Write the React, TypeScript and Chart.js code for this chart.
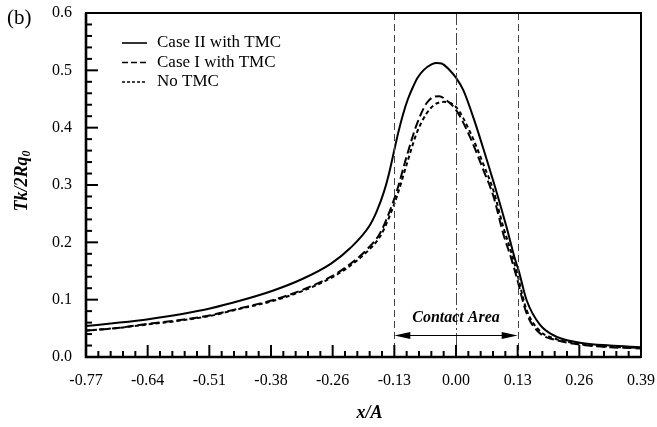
import React, { useEffect, useRef } from "react";
import { Chart, registerables } from "chart.js";

Chart.register(...registerables);

// ---- data ----
const xTickValues = [-0.77, -0.64167, -0.51333, -0.385, -0.25667, -0.12833, 0, 0.12833, 0.25667, 0.385];
const xTickLabels = ["-0.77", "-0.64", "-0.51", "-0.38", "-0.26", "-0.13", "0.00", "0.13", "0.26", "0.39"];
const yTickValues = [0, 0.1, 0.2, 0.3, 0.4, 0.5, 0.6];
const yTickLabels = ["0.0", "0.1", "0.2", "0.3", "0.4", "0.5", "0.6"];

const caseIIx = [-0.77, -0.7, -0.64, -0.57, -0.51, -0.45, -0.38, -0.32, -0.26, -0.22, -0.18, -0.165, -0.15, -0.14, -0.13, -0.12, -0.11, -0.1, -0.09, -0.08, -0.068, -0.05, -0.04, -0.03, -0.015, 0.0, 0.015, 0.04, 0.064, 0.085, 0.105, 0.123, 0.13, 0.147, 0.175, 0.21, 0.265, 0.32, 0.385];
const caseIIy = [0.054, 0.06, 0.066, 0.075, 0.085, 0.098, 0.116, 0.136, 0.163, 0.19, 0.229, 0.254, 0.288, 0.318, 0.355, 0.392, 0.424, 0.45, 0.47, 0.487, 0.5, 0.511, 0.513, 0.512, 0.502, 0.487, 0.466, 0.408, 0.344, 0.286, 0.227, 0.17, 0.152, 0.099, 0.056, 0.035, 0.024, 0.02, 0.017];

const caseIx = [-0.77, -0.7, -0.64, -0.57, -0.51, -0.45, -0.38, -0.32, -0.26, -0.227, -0.186, -0.158, -0.14, -0.123, -0.103, -0.082, -0.061, -0.045, -0.035, -0.02, 0.0, 0.029, 0.057, 0.078, 0.098, 0.116, 0.126, 0.147, 0.175, 0.202, 0.265, 0.32, 0.385];
const caseIy = [0.046, 0.051, 0.058, 0.065, 0.073, 0.085, 0.0995, 0.117, 0.14, 0.158, 0.187, 0.216, 0.25, 0.29, 0.349, 0.405, 0.443, 0.454, 0.455, 0.448, 0.431, 0.384, 0.326, 0.28, 0.216, 0.169, 0.14, 0.076, 0.041, 0.031, 0.021, 0.017, 0.015];

const noTmcX = [-0.77, -0.7, -0.64, -0.57, -0.51, -0.45, -0.38, -0.32, -0.26, -0.227, -0.186, -0.158, -0.14, -0.123, -0.103, -0.082, -0.061, -0.045, -0.035, -0.025, 0.0, 0.029, 0.057, 0.078, 0.098, 0.116, 0.126, 0.147, 0.175, 0.202, 0.265, 0.32, 0.385];
const noTmcY = [0.046, 0.051, 0.057, 0.064, 0.072, 0.084, 0.098, 0.115, 0.138, 0.155, 0.183, 0.21, 0.242, 0.28, 0.335, 0.39, 0.425, 0.44, 0.444, 0.445, 0.436, 0.393, 0.336, 0.29, 0.228, 0.18, 0.15, 0.082, 0.045, 0.033, 0.022, 0.018, 0.016];

const seriesNames = ["Case II with TMC", "Case I with TMC", "No TMC"];
const seriesDashes = [[], [9, 4], [4, 3]];

const contactLeft = -0.12833;
const contactRight = 0.12833;
const contactCenter = 0.0;
const arrowY = 0.038;
const contactLabelY = 0.068;

const FONT = '"Liberation Serif", "Times New Roman", serif';

const toPts = (xs: number[], ys: number[]) => xs.map((x, i) => ({ x, y: ys[i] }));

const decor = {
  id: "decor",
  afterDatasetsDraw(chart: any) {
    const { ctx, chartArea, scales } = chart;
    const { left, right, top, bottom } = chartArea;
    const xs = scales.x;
    const ys = scales.y;
    ctx.save();

    // vertical reference lines
    ctx.strokeStyle = "#444";
    ctx.lineWidth = 1;
    const vline = (v: number, dash: number[]) => {
      const px = Math.round(xs.getPixelForValue(v)) + 0.5;
      ctx.setLineDash(dash);
      ctx.beginPath();
      ctx.moveTo(px, top);
      ctx.lineTo(px, bottom);
      ctx.stroke();
    };
    vline(contactLeft, [7, 4]);
    vline(contactRight, [7, 4]);
    vline(contactCenter, [12, 3, 2, 3]);
    ctx.setLineDash([]);

    // double arrow
    const ax1 = xs.getPixelForValue(contactLeft);
    const ax2 = xs.getPixelForValue(contactRight);
    const ay = Math.round(ys.getPixelForValue(arrowY)) + 0.5;
    ctx.strokeStyle = "#000";
    ctx.lineWidth = 1;
    ctx.beginPath();
    ctx.moveTo(ax1 + 10, ay);
    ctx.lineTo(ax2 - 10, ay);
    ctx.stroke();
    ctx.fillStyle = "#000";
    ctx.beginPath();
    ctx.moveTo(ax1, ay);
    ctx.lineTo(ax1 + 16, ay - 3.5);
    ctx.lineTo(ax1 + 16, ay + 3.5);
    ctx.closePath();
    ctx.fill();
    ctx.beginPath();
    ctx.moveTo(ax2, ay);
    ctx.lineTo(ax2 - 16, ay - 3.5);
    ctx.lineTo(ax2 - 16, ay + 3.5);
    ctx.closePath();
    ctx.fill();

    ctx.font = `italic bold 16px ${FONT}`;
    ctx.textAlign = "center";
    ctx.textBaseline = "middle";
    ctx.fillText("Contact Area", xs.getPixelForValue(contactCenter), ys.getPixelForValue(contactLabelY));

    // frame
    ctx.strokeStyle = "#000";
    ctx.lineWidth = 2;
    ctx.strokeRect(left, top, right - left, bottom - top);
    ctx.lineWidth = 2.6;
    ctx.beginPath();
    ctx.moveTo(left, top);
    ctx.lineTo(left, bottom);
    ctx.lineTo(right, bottom);
    ctx.stroke();

    // ticks (inward)
    ctx.lineWidth = 2;
    const majorLen = 12;
    const minorLen = 6;
    for (let i = 0; i < xTickValues.length; i++) {
      const px = xs.getPixelForValue(xTickValues[i]);
      ctx.beginPath();
      ctx.moveTo(px, bottom);
      ctx.lineTo(px, bottom - majorLen);
      ctx.stroke();
      if (i < xTickValues.length - 1) {
        const step = (xTickValues[i + 1] - xTickValues[i]) / 5;
        for (let k = 1; k < 5; k++) {
          const mx = xs.getPixelForValue(xTickValues[i] + k * step);
          ctx.beginPath();
          ctx.moveTo(mx, bottom);
          ctx.lineTo(mx, bottom - minorLen);
          ctx.stroke();
        }
      }
    }
    for (let i = 0; i < yTickValues.length; i++) {
      const py = ys.getPixelForValue(yTickValues[i]);
      ctx.beginPath();
      ctx.moveTo(left, py);
      ctx.lineTo(left + majorLen, py);
      ctx.stroke();
      if (i < yTickValues.length - 1) {
        const step = (yTickValues[i + 1] - yTickValues[i]) / 5;
        for (let k = 1; k < 5; k++) {
          const my = ys.getPixelForValue(yTickValues[i] + k * step);
          ctx.beginPath();
          ctx.moveTo(left, my);
          ctx.lineTo(left + minorLen, my);
          ctx.stroke();
        }
      }
    }

    // legend
    ctx.font = `17px ${FONT}`;
    ctx.textAlign = "left";
    ctx.textBaseline = "middle";
    const lx = left + 36;
    const ly0 = top + 30;
    for (let i = 0; i < seriesNames.length; i++) {
      const yy = ly0 + i * 19.5;
      ctx.lineWidth = 1.6;
      ctx.setLineDash(i === 1 ? [6, 3] : i === 2 ? [3, 2] : []);
      ctx.beginPath();
      ctx.moveTo(lx, yy);
      ctx.lineTo(lx + 25, yy);
      ctx.stroke();
      ctx.setLineDash([]);
      ctx.fillText(seriesNames[i], lx + 35, yy);
    }

    // axis titles
    ctx.textAlign = "center";
    ctx.font = `italic bold 18px ${FONT}`;
    ctx.fillText("x/A", (left + right) / 2 + 6, 413);

    ctx.save();
    ctx.translate(22, (top + bottom) / 2 - 4);
    ctx.rotate(-Math.PI / 2);
    ctx.font = `italic bold 18px ${FONT}`;
    const main = "Tk/2Rq";
    const wMain = ctx.measureText(main).width;
    ctx.font = `italic bold 12px ${FONT}`;
    const wSub = ctx.measureText("0").width;
    const startX = -(wMain + wSub) / 2;
    ctx.textAlign = "left";
    ctx.font = `italic bold 18px ${FONT}`;
    ctx.fillText(main, startX, 0);
    ctx.font = `italic bold 12px ${FONT}`;
    ctx.fillText("0", startX + wMain, 5);
    ctx.restore();

    // panel label
    ctx.font = `21px ${FONT}`;
    ctx.textAlign = "left";
    ctx.fillText("(b)", 7, 18);

    ctx.restore();
  },
};

export default function App() {
  const ref = useRef<HTMLCanvasElement | null>(null);
  useEffect(() => {
    if (!ref.current) return;
    const mk = (label: string, xsArr: number[], ysArr: number[], dash: number[]) => ({
      label,
      data: toPts(xsArr, ysArr),
      borderColor: "#000",
      backgroundColor: "#000",
      borderWidth: 2,
      borderDash: dash,
      pointRadius: 0,
      fill: false,
      cubicInterpolationMode: "monotone" as const,
    });
    const chart = new Chart(ref.current, {
      type: "line",
      data: {
        datasets: [
          mk(seriesNames[0], caseIIx, caseIIy, seriesDashes[0]),
          mk(seriesNames[1], caseIx, caseIy, seriesDashes[1]),
          mk(seriesNames[2], noTmcX, noTmcY, seriesDashes[2]),
        ],
      },
      options: {
        animation: false,
        responsive: true,
        maintainAspectRatio: false,
        layout: { padding: { left: 0, top: 13, right: 16, bottom: 0 } },
        plugins: { legend: { display: false }, tooltip: { enabled: false } },
        scales: {
          x: {
            type: "linear",
            min: xTickValues[0],
            max: xTickValues[xTickValues.length - 1],
            afterBuildTicks: (s: any) => {
              s.ticks = xTickValues.map((v) => ({ value: v }));
            },
            afterFit: (s: any) => {
              s.height = 70;
              s.paddingLeft = 0;
              s.paddingRight = 0;
            },
            grid: { display: false, drawTicks: false },
            border: { display: false },
            ticks: {
              autoSkip: false,
              maxRotation: 0,
              padding: 14,
              color: "#000",
              font: { family: FONT, size: 16 },
              callback: (_v: any, i: number) => xTickLabels[i],
            },
          },
          y: {
            type: "linear",
            min: 0,
            max: 0.6,
            afterBuildTicks: (s: any) => {
              s.ticks = yTickValues.map((v) => ({ value: v }));
            },
            afterFit: (s: any) => {
              s.width = 86;
              s.paddingTop = 0;
              s.paddingBottom = 0;
            },
            grid: { display: false, drawTicks: false },
            border: { display: false },
            ticks: {
              autoSkip: false,
              padding: 14,
              color: "#000",
              font: { family: FONT, size: 16 },
              callback: (_v: any, i: number) => yTickLabels[i],
            },
          },
        },
      },
      plugins: [decor],
    });
    return () => chart.destroy();
  }, []);
  return (
    <div style={{ position: "absolute", left: 0, top: 0, width: 657, height: 427, background: "#fff" }}>
      <canvas ref={ref} />
    </div>
  );
}
